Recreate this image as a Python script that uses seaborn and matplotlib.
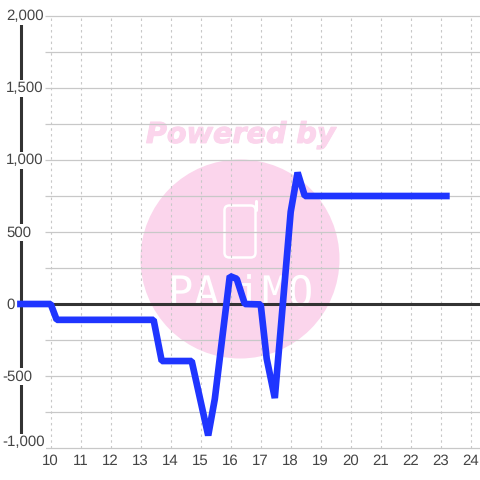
import matplotlib
matplotlib.use("Agg")
import matplotlib.pyplot as plt
import matplotlib.patheffects as pe
from matplotlib.patches import Circle, FancyBboxPatch
import pandas as pd
import seaborn as sns

hours = [8.88, 10.0, 10.2, 13.43, 13.7, 14.7, 15.25, 15.47, 15.97, 16.2, 16.47, 17.0, 17.2, 17.47, 18.0, 18.23, 18.47, 23.3]
values = [0, 0, -110, -110, -396, -396, -913, -660, 194, 175, 0, -3, -380, -653, 640, 913, 750, 750]
x_ticks = list(range(10, 25))
y_ticks = [-1000, -500, 0, 500, 1000, 1500, 2000]
y_grid = [-1000, -750, -500, -250, 0, 250, 500, 750, 1000, 1250, 1500, 1750, 2000]
y_labels = ["-1,000", "-500", "0", "500", "1,000", "1,500", "2,000"]
watermark = "Powered by"
brand_letters = ["P", "A", "i", "M", "O"]
brand_px = [181, 206, 248, 274, 300]

W = 480
sns.set_theme(style="white", rc={"font.family": ["Liberation Sans", "DejaVu Sans"], "text.hinting": "no_hinting", "text.hinting_factor": 1})
fig = plt.figure(figsize=(4.8, 4.8), dpi=100, facecolor="white")
ax = fig.add_axes([0, 0, 1, 1])
px_x = 30.0
x0 = 10 - 50.7 / px_x
x1 = x0 + W / px_x
py = 0.144
y_top = 2000 + 16 / py
y_bot = y_top - W / py
ax.set_xlim(x0, x1)
ax.set_ylim(y_bot, y_top)
ax.axis("off")

# watermark, placed in figure pixels
pink = "#fbd5ec"
tr = fig.transFigure
ax.add_patch(Circle((240 / W, 1 - 259 / W), 99.5 / W, transform=tr, facecolor=pink, edgecolor="none", zorder=0, clip_on=False))
ax.text(242 / W, 1 - 135 / W, watermark, color=pink, ha="center", va="center", fontsize=20.6, transform=tr,
        family="DejaVu Sans", weight="bold", style="oblique", zorder=0,
        path_effects=[pe.withStroke(linewidth=0.8, foreground=pink)])
ax.add_patch(FancyBboxPatch((224.5 / W, 1 - 257.5 / W), 31 / W, 52 / W, boxstyle="round,pad=0,rounding_size=0.01",
                            transform=tr, facecolor="none", edgecolor="white", lw=1.8, zorder=0, clip_on=False))
ax.plot([255.5 / W, 255.5 / W], [1 - 201 / W, 1 - 210 / W], transform=tr, color="white", lw=2.2, zorder=0,
        solid_capstyle="round", scalex=False, scaley=False)
for ch, px in zip(brand_letters, brand_px):
    ax.text(px / W, 1 - 305.5 / W, ch, color="white", ha="center", va="baseline", fontsize=30, transform=tr,
            family="DejaVu Sans Mono", zorder=0)

# grid
for v in y_grid:
    ax.plot([x0 + 45 / px_x, x1], [v, v], color="#c8c8c8", lw=0.9, zorder=1, solid_capstyle="butt")
for h in x_ticks:
    ax.plot([h, h], [-1000, 2000], color="#c8c8c8", lw=0.8, ls=(0, (2.2, 3)), zorder=1)

# y axis and zero line
ax.plot([x0 + 20.6 / px_x] * 2, [-1000 + 11 / py, 2000 - 8 / py], color="#333333", lw=2.2, zorder=2, solid_capstyle="butt")
ax.plot([x0 + 20 / px_x, x1], [0, 0], color="#333333", lw=2.2, zorder=2, solid_capstyle="butt")

# tick labels
for h in x_ticks:
    ax.text(h, y_bot + 19 / py, str(h), ha="center", va="center", fontsize=11, color="#444444", zorder=4)
for v, s in zip(y_ticks, y_labels):
    left = 2.0 if s.startswith("-") else 6.2
    nudge = 6.0 if v == min(y_ticks) else -0.6
    ax.text(x0 + left / px_x, v + nudge / py, s, ha="left", va="center", fontsize=11, color="#444444", zorder=4,
            bbox=dict(facecolor="white", edgecolor="none", pad=1.0))

df = pd.DataFrame({"hour": hours, "value": values})
sns.lineplot(data=df, x="hour", y="value", ax=ax, color="#1f35ff", linewidth=4.8, sort=False, errorbar=None,
             estimator=None, zorder=5, solid_capstyle="butt", solid_joinstyle="bevel")
ax.set_xlabel("")
ax.set_ylabel("")
ax.set_xlim(x0, x1)
ax.set_ylim(y_bot, y_top)

fig.savefig("out.png", dpi=100)
